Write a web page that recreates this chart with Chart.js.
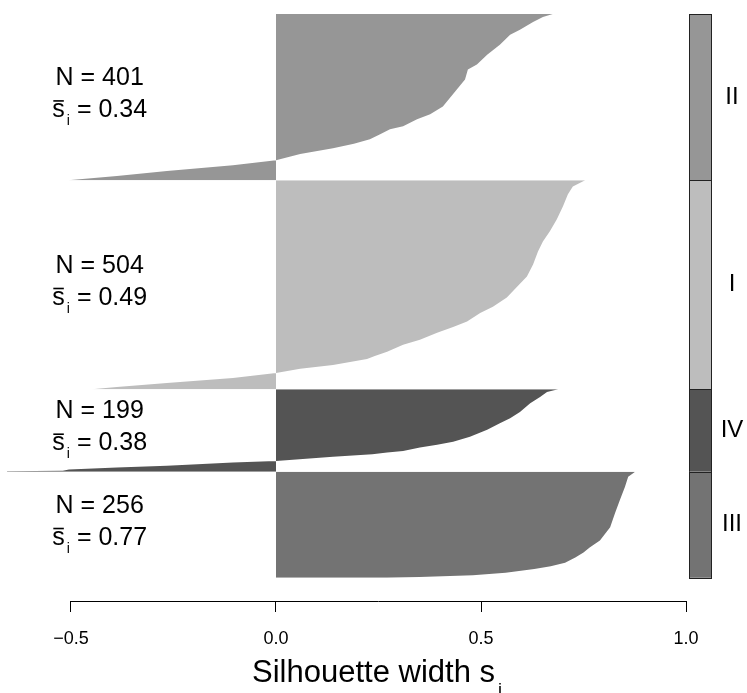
<!DOCTYPE html>
<html>
<head>
<meta charset="utf-8">
<script src="https://cdn.jsdelivr.net/npm/chart.js@4.4.0/dist/chart.umd.min.js"></script>
<style>
  html, body { margin: 0; padding: 0; background: #fff; }
</style>
</head>
<body>
<canvas id="sil" width="747" height="693"></canvas>
<script>
(function () {
  "use strict";

  const FONT = "'Liberation Sans', Arial, sans-serif";

  // clusters, top to bottom
  const clusterLabels = ["II", "I", "IV", "III"];
  const clusterSizes = [401, 504, 199, 256];
  const clusterMeans = ["0.34", "0.49", "0.38", "0.77"];
  const clusterColors = ["#969696", "#bdbdbd", "#545454", "#737373"];

  const xTicks = [-0.5, 0, 0.5, 1.0];

  // silhouette profiles: rank inside cluster -> s_i
  const rankII = [0, 7, 19, 38, 50, 74, 98, 122, 134, 158, 182, 223, 242, 254, 271, 278, 290, 302, 313, 324, 338, 353, 365, 379, 391, 401];
  const silII = [0.675, 0.651, 0.627, 0.595, 0.571, 0.546, 0.515, 0.49, 0.468, 0.461, 0.441, 0.407, 0.376, 0.344, 0.31, 0.278, 0.254, 0.229, 0.19, 0.139, 0.059, 0, -0.105, -0.266, -0.388, -0.507];

  const rankI = [0, 15, 34, 63, 94, 123, 148, 172, 203, 232, 257, 283, 305, 320, 341, 354, 368, 385, 397, 414, 424, 431, 446, 455, 465, 477, 489, 499, 504];
  const silI = [0.754, 0.724, 0.712, 0.7, 0.685, 0.668, 0.651, 0.639, 0.627, 0.612, 0.588, 0.563, 0.529, 0.498, 0.466, 0.432, 0.393, 0.351, 0.31, 0.271, 0.241, 0.222, 0.139, 0.059, 0, -0.105, -0.266, -0.388, -0.449];

  const rankIV = [0, 7, 19, 34, 55, 70, 82, 98, 115, 127, 134, 141, 149, 153, 157, 163, 173, 177, 185, 189, 194, 197, 198, 199];
  const silIV = [0.688, 0.661, 0.644, 0.62, 0.595, 0.571, 0.546, 0.515, 0.473, 0.432, 0.393, 0.351, 0.31, 0.271, 0.235, 0.139, 0, -0.105, -0.266, -0.388, -0.505, -0.52, -0.656, -0.656];

  const rankIII = [0, 12, 37, 68, 100, 134, 166, 183, 195, 207, 220, 228, 235, 244, 250, 254, 256];
  const silIII = [0.876, 0.859, 0.851, 0.839, 0.827, 0.815, 0.79, 0.765, 0.75, 0.73, 0.705, 0.67, 0.63, 0.56, 0.48, 0.35, 0.27];

  const ranks = [rankII, rankI, rankIV, rankIII];
  const sils = [silII, silI, silIV, silIII];

  // start row of each cluster
  const offsets = [];
  let acc = 0;
  clusterSizes.forEach(function (n) {
    offsets.push(acc);
    acc += n;
  });

  const datasets = clusterLabels.map(function (lab, k) {
    return {
      label: lab,
      data: ranks[k].map(function (r, i) {
        return { x: sils[k][i], y: offsets[k] + r };
      }),
      backgroundColor: clusterColors[k],
      borderColor: "rgba(0,0,0,0)",
      borderWidth: 0,
      pointRadius: 0,
      tension: 0,
      fill: "origin",
      clip: false,
    };
  });

  function fmtTick(v) {
    return v < 0 ? "\u2212" + Math.abs(v).toFixed(1) : v.toFixed(1);
  }

  // stats text, axis line, cluster strip, title subscript
  const decor = {
    id: "decor",
    afterDraw: function (chart) {
      const ctx = chart.ctx;
      const xs = chart.scales.x;
      const ys = chart.scales.y;
      ctx.save();
      ctx.fillStyle = "#000";
      ctx.strokeStyle = "#000";

      // axis line only between first and last tick
      const axY = Math.round(xs.top) + 0.5;
      ctx.lineWidth = 1;
      ctx.beginPath();
      ctx.moveTo(xs.getPixelForValue(xTicks[0]), axY);
      ctx.lineTo(xs.getPixelForValue(xTicks[xTicks.length - 1]), axY);
      ctx.stroke();

      const textX = xs.getPixelForValue(-0.43);
      const stripL = xs.getPixelForValue(1.0) + 3;
      const stripW = 22;

      clusterLabels.forEach(function (lab, k) {
        const top = ys.getPixelForValue(offsets[k]);
        const bot = ys.getPixelForValue(offsets[k] + clusterSizes[k]);
        const mid = (top + bot) / 2;

        // N = ..
        ctx.textAlign = "center";
        ctx.textBaseline = "alphabetic";
        ctx.font = "25px " + FONT;
        ctx.fillText("N = " + clusterSizes[k], textX, mid - 12);

        // s-bar_i = ..
        const main = "25px " + FONT;
        const sub = "14px " + FONT;
        const rest = " = " + clusterMeans[k];
        ctx.font = main;
        const wS = ctx.measureText("s").width;
        const wR = ctx.measureText(rest).width;
        ctx.font = sub;
        const wI = ctx.measureText("i").width;
        const total = wS + 2 + wI + wR;
        let x = textX - total / 2;
        const b = mid + 20;
        ctx.textAlign = "left";
        ctx.font = main;
        ctx.fillText("s", x, b);
        ctx.fillRect(x + 1, b - 17, wS - 2, 1.6);
        x += wS + 2;
        ctx.font = sub;
        ctx.fillText("i", x, b + 8);
        x += wI;
        ctx.font = main;
        ctx.fillText(rest, x, b);

        // strip
        ctx.fillStyle = clusterColors[k];
        ctx.fillRect(stripL, top, stripW, bot - top);
        ctx.strokeStyle = "#222";
        ctx.strokeRect(Math.round(stripL) + 0.5, Math.round(top) + 0.5, stripW, Math.round(bot) - Math.round(top));
        ctx.fillStyle = "#000";
        ctx.textAlign = "center";
        ctx.textBaseline = "middle";
        ctx.font = "24px " + FONT;
        ctx.fillText(lab, stripL + stripW + 21, mid);
      });

      // subscript of axis title
      ctx.font = "31px " + FONT;
      const wt = ctx.measureText("Silhouette width s").width;
      ctx.font = "18px " + FONT;
      ctx.textAlign = "left";
      ctx.textBaseline = "alphabetic";
      ctx.fillText("i", (xs.left + xs.right) / 2 + wt / 2 + 3, 696);
      ctx.restore();
    },
  };

  Chart.defaults.font.family = FONT;
  Chart.defaults.color = "#000";

  new Chart(document.getElementById("sil"), {
    type: "line",
    data: { datasets: datasets },
    options: {
      responsive: false,
      animation: false,
      indexAxis: "y",
      layout: { padding: { top: 14, left: 0, right: 0, bottom: 0 } },
      plugins: {
        legend: { display: false },
        tooltip: { enabled: false },
      },
      scales: {
        x: {
          type: "linear",
          position: "bottom",
          min: -0.67317,
          max: 1.14878,
          afterBuildTicks: function (axis) {
            axis.ticks = xTicks.map(function (v) {
              return { value: v };
            });
          },
          afterFit: function (axis) {
            axis.height = 92;
          },
          ticks: {
            autoSkip: false,
            maxRotation: 0,
            padding: 16,
            font: { size: 18 },
            color: "#000",
            callback: fmtTick,
          },
          grid: {
            drawOnChartArea: false,
            drawTicks: true,
            tickLength: 11,
            color: "#000",
          },
          border: { display: false },
          title: {
            display: true,
            text: "Silhouette width s",
            font: { size: 31 },
            color: "#000",
            padding: { top: 0, bottom: 1 },
          },
        },
        y: {
          type: "linear",
          reverse: true,
          min: 0,
          max: 1416,
          display: false,
        },
      },
    },
    plugins: [decor],
  });
})();
</script>
</body>
</html>
